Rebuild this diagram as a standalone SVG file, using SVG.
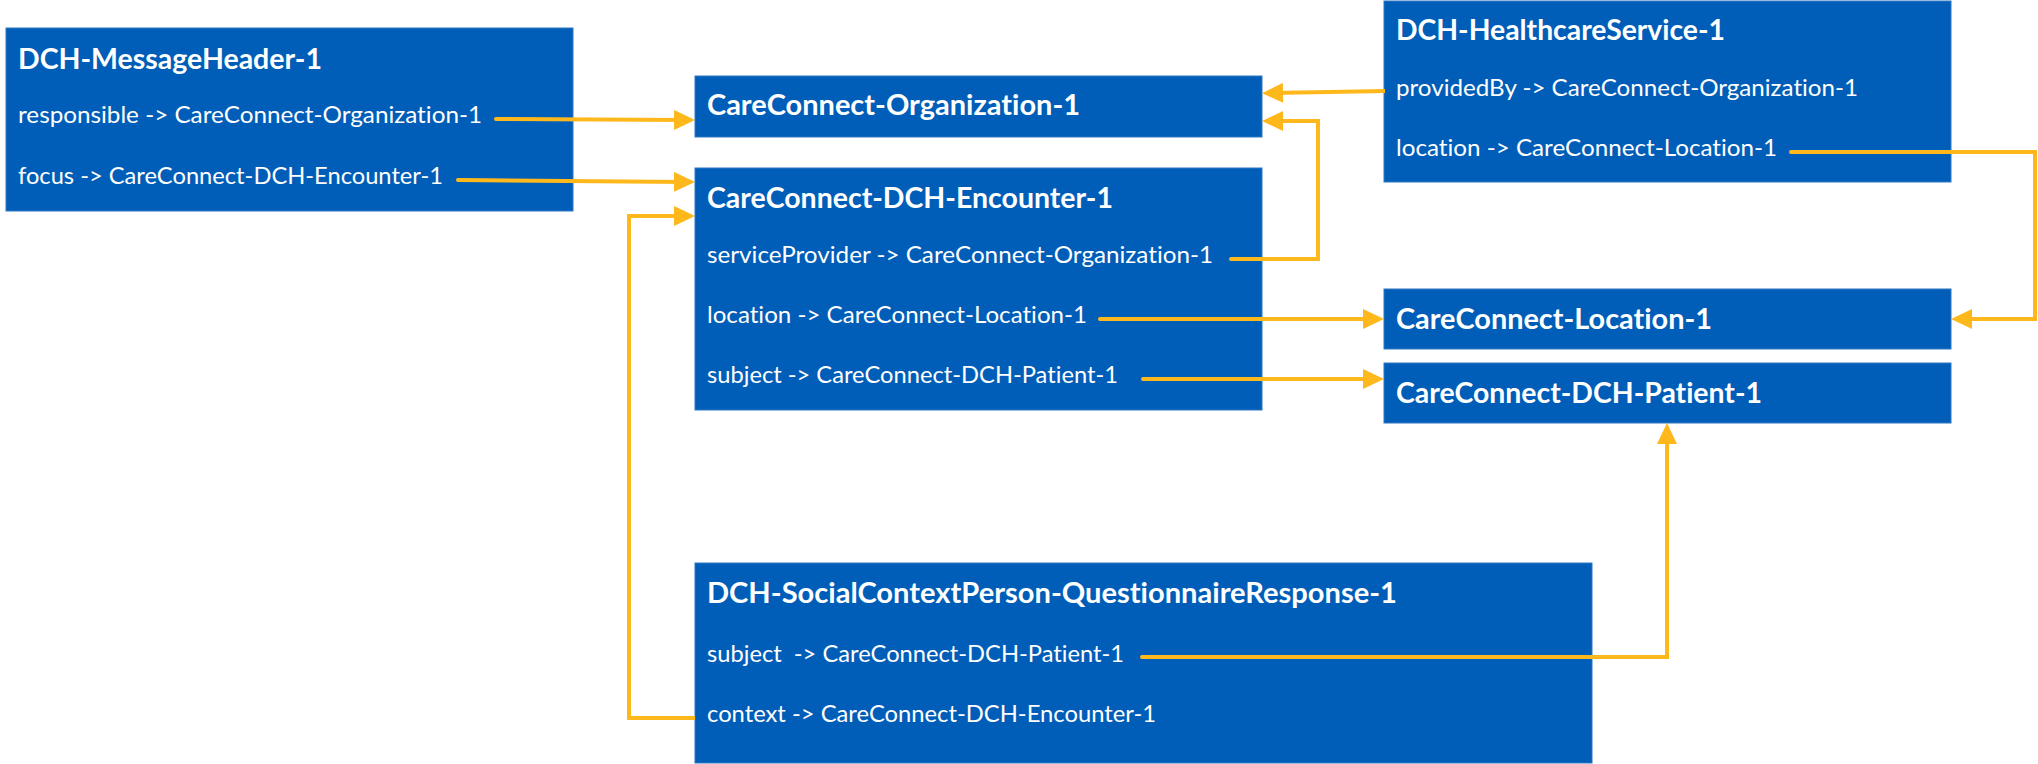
<svg xmlns="http://www.w3.org/2000/svg" width="2038" height="764" viewBox="0 0 2038 764">
<style>
.box{fill:#005EB8;stroke:#2f78c4;stroke-width:1}
.t{font-family:"Lato","Liberation Sans",sans-serif;font-weight:bold;font-size:28px;fill:#ffffff;font-variant-ligatures:none;font-feature-settings:"liga" 0,"dlig" 0}
.f{font-family:"Lato","Liberation Sans",sans-serif;font-size:23px;fill:#ffffff;font-variant-ligatures:none;font-feature-settings:"liga" 0,"dlig" 0}
.c{fill:none;stroke:#FFB81C;stroke-width:4;stroke-linecap:round;stroke-linejoin:miter;marker-end:url(#ah)}
.cn{fill:none;stroke:#FFB81C;stroke-width:4;stroke-linecap:butt;stroke-linejoin:miter;marker-end:url(#ah)}
</style>
<defs>
<marker id="ah" markerUnits="userSpaceOnUse" markerWidth="21" markerHeight="20" refX="11" refY="10" orient="auto">
<path d="M0,0 L21,10 L0,20 Z" fill="#FFB81C"/>
</marker>
</defs>
<rect width="2038" height="764" fill="#ffffff"/>
<g id="messageheader">
<rect class="box" x="6" y="28" width="567" height="183"/>
<text class="t" x="18" y="69" textLength="304" lengthAdjust="spacingAndGlyphs">DCH-MessageHeader-1</text>
<text class="f" x="18" y="123" textLength="464" lengthAdjust="spacingAndGlyphs">responsible -&gt; CareConnect-Organization-1</text>
<text class="f" x="18" y="184" textLength="425" lengthAdjust="spacingAndGlyphs">focus -&gt; CareConnect-DCH-Encounter-1</text>
</g>
<g id="organization">
<rect class="box" x="695" y="76" width="567" height="61"/>
<text class="t" x="707" y="115" textLength="373" lengthAdjust="spacingAndGlyphs">CareConnect-Organization-1</text>
</g>
<g id="encounter">
<rect class="box" x="695" y="168" width="567" height="242"/>
<text class="t" x="707" y="208" textLength="406" lengthAdjust="spacingAndGlyphs">CareConnect-DCH-Encounter-1</text>
<text class="f" x="707" y="263" textLength="506" lengthAdjust="spacingAndGlyphs">serviceProvider -&gt; CareConnect-Organization-1</text>
<text class="f" x="707" y="323" textLength="380" lengthAdjust="spacingAndGlyphs">location -&gt; CareConnect-Location-1</text>
<text class="f" x="707" y="383" textLength="411" lengthAdjust="spacingAndGlyphs">subject -&gt; CareConnect-DCH-Patient-1</text>
</g>
<g id="healthcareservice">
<rect class="box" x="1384" y="1" width="567" height="181"/>
<text class="t" x="1396" y="40" textLength="329" lengthAdjust="spacingAndGlyphs">DCH-HealthcareService-1</text>
<text class="f" x="1396" y="96" textLength="462" lengthAdjust="spacingAndGlyphs">providedBy -&gt; CareConnect-Organization-1</text>
<text class="f" x="1396" y="156" textLength="381" lengthAdjust="spacingAndGlyphs">location -&gt; CareConnect-Location-1</text>
</g>
<g id="location">
<rect class="box" x="1384" y="289" width="567" height="60"/>
<text class="t" x="1396" y="329" textLength="316" lengthAdjust="spacingAndGlyphs">CareConnect-Location-1</text>
</g>
<g id="patient">
<rect class="box" x="1384" y="363" width="567" height="60"/>
<text class="t" x="1396" y="403" textLength="366" lengthAdjust="spacingAndGlyphs">CareConnect-DCH-Patient-1</text>
</g>
<g id="socialcontext">
<rect class="box" x="695" y="563" width="897" height="200"/>
<text class="t" x="707" y="603" textLength="690" lengthAdjust="spacingAndGlyphs">DCH-SocialContextPerson-QuestionnaireResponse-1</text>
<text class="f" x="707" y="662" textLength="417" lengthAdjust="spacingAndGlyphs" xml:space="preserve">subject  -&gt; CareConnect-DCH-Patient-1</text>
<text class="f" x="707" y="722" textLength="449" lengthAdjust="spacingAndGlyphs">context -&gt; CareConnect-DCH-Encounter-1</text>
</g>
<g id="connectors">
<path class="c" d="M496,119 L685,120"/>
<path class="c" d="M458,180 L685,182"/>
<path class="cn" d="M695,718 H629 V216 H685"/>
<path class="c" d="M1231,259 H1318 V121 H1272"/>
<path class="cn" d="M1385,91 L1272,93"/>
<path class="c" d="M1100,319 H1374"/>
<path class="c" d="M1143,379 H1374"/>
<path class="c" d="M1791,152 H2035 V319 H1961"/>
<path class="c" d="M1142,657 H1667 V433"/>
</g>
</svg>
